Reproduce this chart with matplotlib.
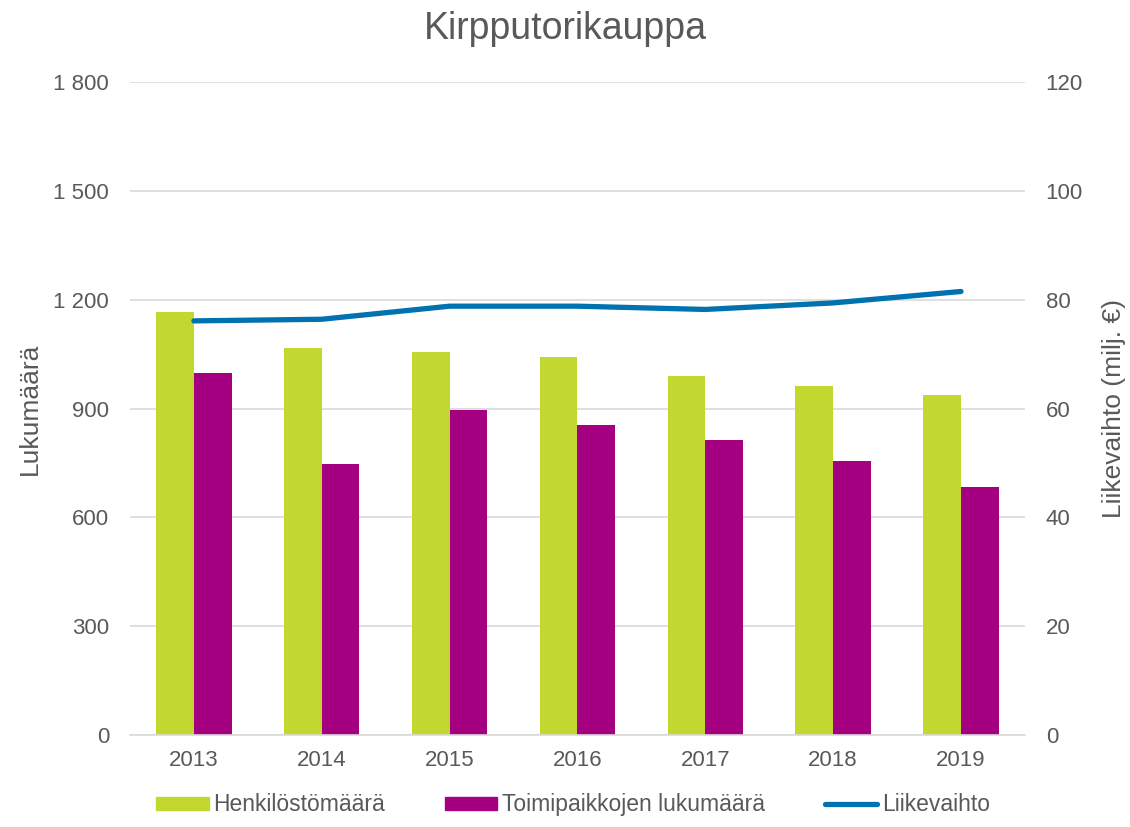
import numpy as np
import matplotlib.pyplot as plt
from matplotlib.patches import Patch
from matplotlib.lines import Line2D
from matplotlib.ticker import FuncFormatter

plt.rcParams['font.family'] = ['Liberation Sans', 'DejaVu Sans']

years = ["2013", "2014", "2015", "2016", "2017", "2018", "2019"]
henkilosto = [1167, 1067, 1055, 1043, 990, 961, 938]
toimipaikat = [997, 748, 896, 854, 813, 755, 684]
liikevaihto = [76.1, 76.4, 78.8, 78.8, 78.2, 79.4, 81.5]

green = "#C2D72F"
purple = "#A50082"
blue = "#0072B0"
txt = "#595959"

fig = plt.figure(figsize=(11.3, 8.27), dpi=100)
ax = fig.add_axes([0.115, 0.111, 0.792, 0.79])
ax2 = ax.twinx()

x = np.arange(len(years))
w = 0.295
ax.bar(x - w / 2, henkilosto, w, color=green, zorder=2)
ax.bar(x + w / 2, toimipaikat, w, color=purple, zorder=2)
ax2.plot(x, liikevaihto, color=blue, lw=3.8, solid_capstyle="round")

ax.set_xlim(-0.5, len(years) - 0.5)
ax.set_ylim(0, 1800)
ax.set_yticks(range(0, 1801, 300))
ax.yaxis.set_major_formatter(FuncFormatter(lambda v, p: f"{int(v):,}".replace(",", " ")))
ax2.set_ylim(0, 120)
ax2.set_yticks(range(0, 121, 20))

ax.set_xticks(x)
ax.set_xticklabels(years)
ax.grid(axis="y", color="#D9D9D9", lw=1.2, zorder=0)
ax.set_axisbelow(True)

for a in (ax, ax2):
    for s in a.spines.values():
        s.set_visible(False)
    a.tick_params(length=0, labelsize=16, colors=txt)
ax.spines["bottom"].set_visible(True)
ax.spines["bottom"].set_color("#D9D9D9")
ax.spines["bottom"].set_linewidth(1.2)
ax.tick_params(axis="x", pad=11)
ax.tick_params(axis="y", pad=15)
ax2.tick_params(axis="y", pad=15)

ax.set_ylabel("Lukumäärä", fontsize=19, color=txt, labelpad=8)
ax2.set_ylabel("Liikevaihto (milj. €)", fontsize=19, color=txt, labelpad=14)
fig.suptitle("Kirpputorikauppa", fontsize=27, color=txt, y=0.987)

handles = [Patch(color=green), Patch(color=purple),
           Line2D([0], [0], color=blue, lw=3.8, solid_capstyle="round")]
labels = ["Henkilöstömäärä", "Toimipaikkojen lukumäärä", "Liikevaihto"]
fig.legend(handles, labels, loc="lower center", ncol=3, frameon=False,
           fontsize=16.5, labelcolor=txt, bbox_to_anchor=(0.507, -0.012),
           handlelength=2.3, handleheight=0.5, handletextpad=0.2, columnspacing=2.6)

fig.savefig("out.png", dpi=100)
